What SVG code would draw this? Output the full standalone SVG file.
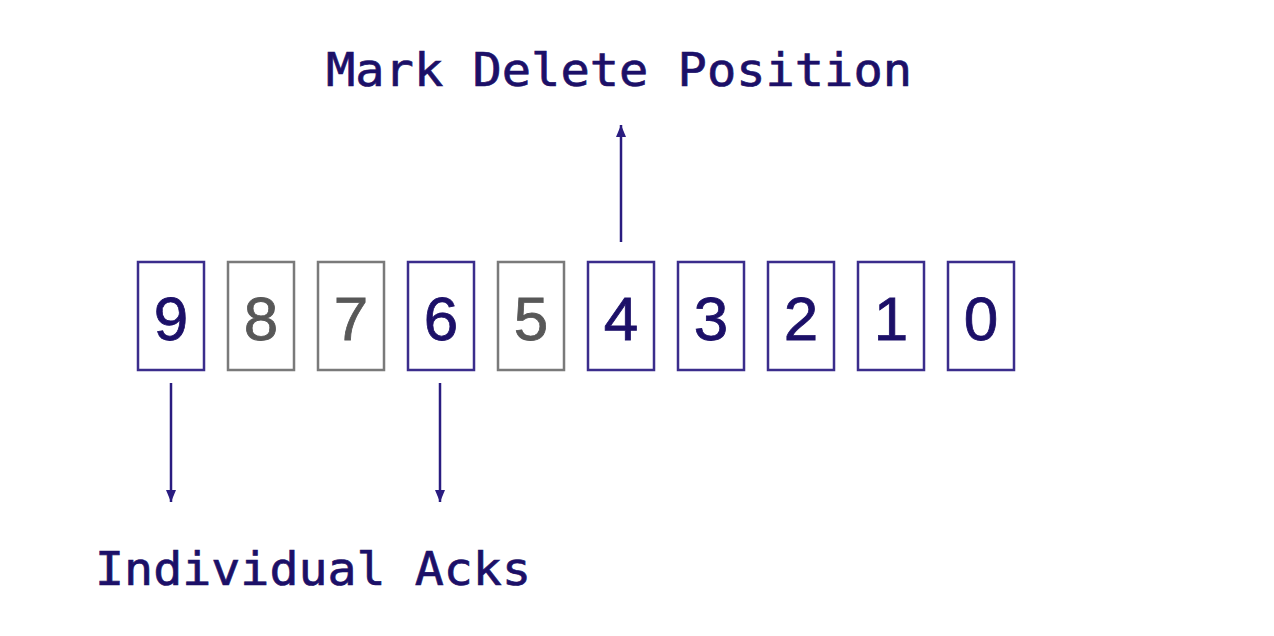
<svg xmlns="http://www.w3.org/2000/svg" width="1274" height="636" viewBox="0 0 1274 636">
<style>
.box{fill:#fff;stroke:#3b2d8c;stroke-width:2.5}
.gbox{fill:#fff;stroke:#7a7a7a;stroke-width:2.5}
.d{font-family:"Liberation Sans",Arial,sans-serif;font-size:62px;fill:#1c1068;stroke:#1c1068;stroke-width:0.8;text-anchor:middle}
.gd{font-family:"Liberation Sans",Arial,sans-serif;font-size:62px;fill:#585858;stroke:#585858;stroke-width:0.8;text-anchor:middle}
.lbl{font-family:"DejaVu Sans Mono","Liberation Mono",monospace;font-size:47px;fill:#1c1068;stroke:#1c1068;stroke-width:0.7}
.c{stroke:#2a1c80;stroke-width:2.5;fill:none}
</style>
<defs>
<marker id="ah" viewBox="0 0 12 10" refX="12" refY="5" markerWidth="12" markerHeight="10" markerUnits="userSpaceOnUse" orient="auto">
<path d="M0,0 L12,5 L0,10 z" fill="#2a1c80"/>
</marker>
</defs>
<rect width="1274" height="636" fill="#fff"/>
<g id="label-mark"><text class="lbl" x="326" y="86" textLength="586" lengthAdjust="spacingAndGlyphs">Mark Delete Position</text></g>
<g id="label-acks"><text class="lbl" x="95" y="585" textLength="436" lengthAdjust="spacingAndGlyphs">Individual Acks</text></g>
<g id="n9"><rect class="box" x="138" y="262" width="66" height="108"/><text class="d" x="171" y="340">9</text></g>
<g id="n8"><rect class="gbox" x="228" y="262" width="66" height="108"/><text class="gd" x="261" y="340">8</text></g>
<g id="n7"><rect class="gbox" x="318" y="262" width="66" height="108"/><text class="gd" x="351" y="340">7</text></g>
<g id="n6"><rect class="box" x="408" y="262" width="66" height="108"/><text class="d" x="441" y="340">6</text></g>
<g id="n5"><rect class="gbox" x="498" y="262" width="66" height="108"/><text class="gd" x="531" y="340">5</text></g>
<g id="n4"><rect class="box" x="588" y="262" width="66" height="108"/><text class="d" x="621" y="340">4</text></g>
<g id="n3"><rect class="box" x="678" y="262" width="66" height="108"/><text class="d" x="711" y="340">3</text></g>
<g id="n2"><rect class="box" x="768" y="262" width="66" height="108"/><text class="d" x="801" y="340">2</text></g>
<g id="n1"><rect class="box" x="858" y="262" width="66" height="108"/><text class="d" x="891" y="340">1</text></g>
<g id="n0"><rect class="box" x="948" y="262" width="66" height="108"/><text class="d" x="981" y="340">0</text></g>
<g id="connectors">
<line class="c" x1="621" y1="242" x2="621" y2="125" marker-end="url(#ah)"/>
<line class="c" x1="171" y1="383" x2="171" y2="502" marker-end="url(#ah)"/>
<line class="c" x1="440" y1="383" x2="440" y2="502" marker-end="url(#ah)"/>
</g>
</svg>
